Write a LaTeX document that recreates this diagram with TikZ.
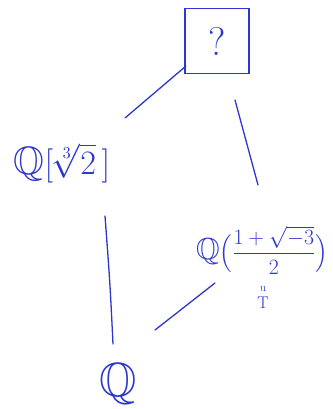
\documentclass[tikz,border=0pt]{standalone}
\usepackage{amsmath,amssymb}
\definecolor{ink}{RGB}{45,55,205}
\newcommand{\bigQ}[1]{\raisebox{0pt}{\scalebox{#1}{$\mathbb{Q}$}}}
\begin{document}
\begin{tikzpicture}[x=1pt,y=-1pt,
  lbl/.style={text=ink,inner sep=0pt,font=\fontsize{20}{24}\selectfont,transform shape},
  conn/.style={draw=ink,line width=1.3pt,line cap=round},
  qbox/.style={draw=ink,line width=1.6pt,minimum width=32pt,minimum height=32.5pt,text=ink,inner sep=0pt,font=\fontsize{20}{24}\selectfont,transform shape}]
\useasboundingbox (0,0) rectangle (332,409);
\node[qbox,scale=2] (top) at (217,41) {?};
\node[lbl,scale=1.65] (left) at (62,163) {\bigQ{1.2}$[\sqrt[3]{2}\,]$};
\node[lbl,scale=1.05] (right) at (262,250) {\bigQ{1.45}$\Bigl(\dfrac{1+\sqrt{-3}}{2}\Bigr)$};
\node[text=ink,inner sep=0pt,align=center,font=\fontsize{14}{16}\selectfont] (note) at (263,298) {{\fontsize{11}{11}\selectfont u}\\[1pt]{\fontsize{17}{17}\selectfont T}};
\node[lbl,scale=2.4] (bottom) at (118,384) {$\mathbb{Q}$};
\draw[conn] ([shift={(-31,25)}]top.center) -- ([shift={(63,-45)}]left.center);
\draw[conn] ([shift={(18,59)}]top.center) -- ([shift={(-4,-65)}]right.center);
\draw[conn] ([shift={(43,53)}]left.center) .. controls ([shift={(48,120)}]left.center) .. ([shift={(-5,-40)}]bottom.center);
\draw[conn] ([shift={(-47,33)}]right.center) -- ([shift={(37,-54)}]bottom.center);
\end{tikzpicture}
\end{document}
